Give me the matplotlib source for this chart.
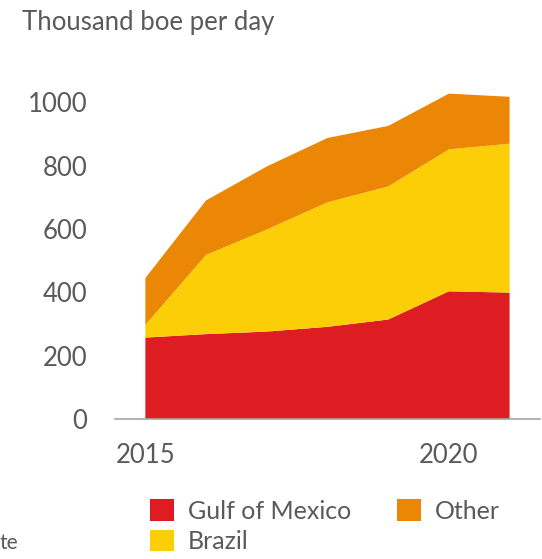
import numpy as np
import matplotlib.pyplot as plt
from matplotlib.patches import Patch

plt.rcParams['font.family'] = ['Lato', 'DejaVu Sans']

years = [2015, 2016, 2017, 2018, 2019, 2020, 2021]
gulf = [257, 268, 276, 291, 314, 403, 399]
brazil = [40, 250, 322, 393, 420, 448, 470]
other = [148, 172, 199, 203, 191, 176, 148]
names = ["Gulf of Mexico", "Brazil", "Other"]
colors = ["#DD1D21", "#FBCE07", "#EB8705"]
grey = "#5a5a5a"

fig = plt.figure(figsize=(5.42, 5.59), dpi=100)
ax = fig.add_axes([0.2122, 0.2504, 0.784, 0.6065])

ax.stackplot(years, gulf, brazil, other, colors=colors, linewidth=0)

ax.set_xlim(2014.5, 2021.5)
ax.set_ylim(0, 1070)
ax.set_yticks([0, 200, 400, 600, 800, 1000])
ax.set_xticks([2015, 2020])
ax.tick_params(length=0, labelsize=18.5, labelcolor=grey)
ax.tick_params(axis='y', pad=20)
ax.tick_params(axis='x', pad=17)

for s in ['top', 'right', 'left']:
    ax.spines[s].set_visible(False)
ax.spines['bottom'].set_color("#a6a6a6")
ax.spines['bottom'].set_linewidth(1.2)

fig.text(0.04, 0.96, "Thousand boe per day", fontsize=18.5, color=grey, va='center')
fig.text(0.0, 0.029, "te", fontsize=15, color=grey, va='center')

handles = [Patch(facecolor=c, label=n) for c, n in zip(colors, names)]
fig.legend(handles=handles, loc='upper left', bbox_to_anchor=(0.277, 0.107), ncol=2,
           frameon=False, fontsize=18, labelcolor=grey, handlelength=0.95, handleheight=0.95,
           handletextpad=0.55, columnspacing=1.85, labelspacing=0.28, borderpad=0, borderaxespad=0)

plt.savefig("out.png", dpi=100)
